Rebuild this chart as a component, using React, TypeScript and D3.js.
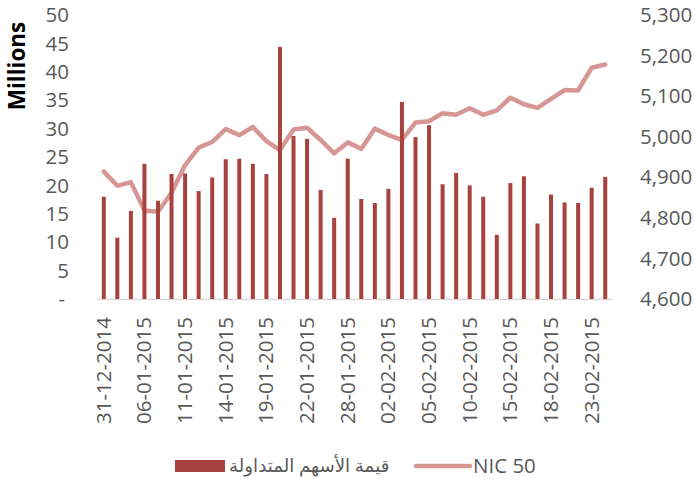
import React from 'react';
import * as d3 from 'd3';

// trading days (category axis)
const dates = [
  '31-12-2014', '04-01-2015', '05-01-2015', '06-01-2015', '07-01-2015', '08-01-2015',
  '11-01-2015', '12-01-2015', '13-01-2015', '14-01-2015', '15-01-2015', '18-01-2015',
  '19-01-2015', '20-01-2015', '21-01-2015', '22-01-2015', '25-01-2015', '26-01-2015',
  '28-01-2015', '29-01-2015', '01-02-2015', '02-02-2015', '03-02-2015', '04-02-2015',
  '05-02-2015', '08-02-2015', '09-02-2015', '10-02-2015', '11-02-2015', '12-02-2015',
  '15-02-2015', '16-02-2015', '17-02-2015', '18-02-2015', '19-02-2015', '22-02-2015',
  '23-02-2015', '24-02-2015',
];

// traded value, millions
const tradedValue = [
  18, 10.8, 15.5, 23.8, 17.3, 22, 22.1, 19, 21.4, 24.6, 24.7, 23.8, 22, 44.4, 28.7, 28.2,
  19.2, 14.3, 24.7, 17.6, 16.9, 19.4, 34.7, 28.5, 30.6, 20.2, 22.2, 20, 18, 11.3, 20.4,
  21.6, 13.3, 18.4, 17, 16.9, 19.6, 21.5,
];

// NIC 50 index
const nic50 = [
  4914, 4879, 4888, 4818, 4815, 4862, 4930, 4973, 4987, 5019, 5004, 5024, 4989, 4967,
  5018, 5022, 4992, 4959, 4986, 4970, 5020, 5004, 4992, 5035, 5038, 5058, 5054, 5070,
  5054, 5065, 5096, 5080, 5071, 5093, 5115, 5114, 5170, 5178,
];

const leftTicks = [0, 5, 10, 15, 20, 25, 30, 35, 40, 45, 50];
const rightTicks = [4600, 4700, 4800, 4900, 5000, 5100, 5200, 5300];

const barLabel = 'قيمة الأسهم المتداولة';
const lineLabel = 'NIC 50';

const W = 695;
const H = 479;
const plot = { left: 97, right: 612, top: 15, bottom: 299 };
const font = '"Open Sans", "DejaVu Sans", sans-serif';
const grey = '#595959';
const barColor = '#A8423F';
const lineColor = '#D69794';
const fs = 20.5;

export default function App() {
  const x = d3.scaleBand().domain(dates).range([plot.left, plot.right]).padding(0);
  const yL = d3.scaleLinear().domain([0, 50]).range([plot.bottom, plot.top]);
  const yR = d3.scaleLinear().domain([4600, 5300]).range([plot.bottom, plot.top]);
  const cx = (d: string) => (x(d) as number) + x.bandwidth() / 2;

  const line = d3
    .line<number>()
    .x((_, i) => cx(dates[i]))
    .y((v) => yR(v));

  const fmt = d3.format(',');
  const barW = 4;

  return (
    <svg
      width={W}
      height={H}
      style={{ position: 'absolute', left: 0, top: 0, background: '#fff' }}
      fontFamily={font}
    >
      {/* axis line */}
      <line x1={plot.left} x2={plot.right} y1={plot.bottom + 0.5} y2={plot.bottom + 0.5} stroke="#D9D9D9" strokeWidth={1.5} />

      <path d={line(nic50) || ''} fill="none" stroke={lineColor} strokeWidth={4.5} strokeLinejoin="round" strokeLinecap="round" />

      {tradedValue.map((v, i) => (
        <rect
          key={i}
          x={cx(dates[i]) - barW / 2}
          y={yL(v)}
          width={barW}
          height={yL(0) - yL(v)}
          fill={barColor}
        />
      ))}

      {/* left axis */}
      {leftTicks.map((t) => (
        <text
          key={t}
          x={t === 0 ? 65 : 69}
          y={yL(t)}
          dy="0.35em"
          textAnchor="end"
          fontSize={fs}
          fill={grey}
        >
          {t === 0 ? '-' : t}
        </text>
      ))}
      <text
        transform="translate(25,66) rotate(-90)"
        textAnchor="middle"
        fontSize={22.5}
        fontWeight="bold"
        fill="#000"
      >
        Millions
      </text>

      {/* right axis */}
      {rightTicks.map((t) => (
        <text key={t} x={640} y={yR(t)} dy="0.35em" textAnchor="start" fontSize={fs} fill={grey}>
          {fmt(t)}
        </text>
      ))}

      {/* category labels */}
      {dates.map((d, i) =>
        i % 3 === 0 ? (
          <text
            key={d}
            transform={`translate(${cx(d) + 7},${plot.bottom + 18}) rotate(-90)`}
            textAnchor="end"
            fontSize={fs}
            fill={grey}
          >
            {d}
          </text>
        ) : null
      )}

      {/* legend */}
      <rect x={175} y={460} width={50} height={12} fill={barColor} />
      <text x={229} y={466} dy="0.35em" fontSize={18.2} fill={grey} textAnchor="start">
        {barLabel}
      </text>
      <line x1={416} x2={470} y1={466} y2={466} stroke={lineColor} strokeWidth={4.5} strokeLinecap="round" />
      <text x={473} y={466} dy="0.35em" fontSize={fs} fill={grey}>
        {lineLabel}
      </text>
    </svg>
  );
}
